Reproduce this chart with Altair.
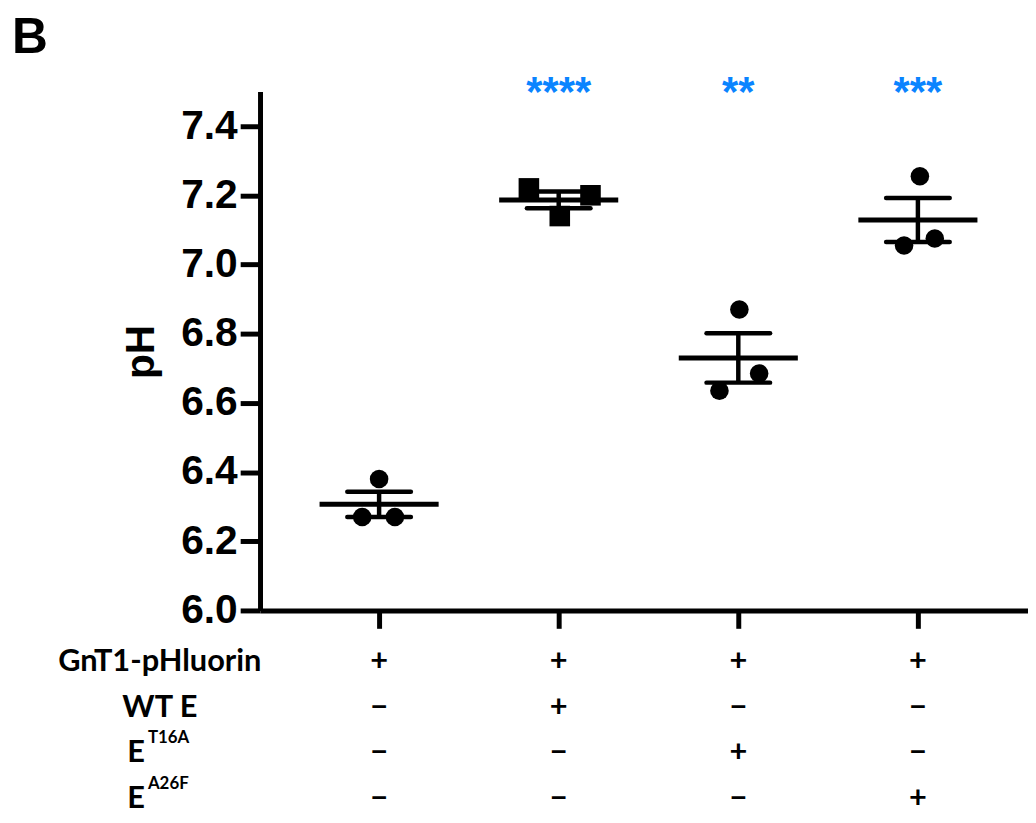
import altair as alt
import pandas as pd

# ---------------- data ----------------
groups = [1, 2, 3, 4]
ph_g1 = [6.38, 6.27, 6.27]
ph_g2 = [7.22, 7.20, 7.14]
ph_g3 = [6.87, 6.685, 6.635]
ph_g4 = [7.255, 7.055, 7.075]
jitter_g1 = [0.0, -0.094, 0.088]
jitter_g2 = [-0.166, 0.177, 0.006]
jitter_g3 = [0.006, 0.116, -0.105]
jitter_g4 = [0.011, -0.077, 0.094]
markers = ["circle", "square", "circle", "circle"]
stars = ["", "****", "**", "***"]

row_names = ["GnT1-pHluorin", "WT E", "E^T16A", "E^A26F"]
row_main = ["GnT1-pHluorin", "WT E", "E", "E"]
row_sup = ["", "", "T16A", "A26F"]
signs_gnt1 = ["+", "+", "+", "+"]
signs_wt = ["−", "+", "−", "−"]
signs_t16a = ["−", "−", "+", "−"]
signs_a26f = ["−", "−", "−", "+"]
y_ticks = [6.0, 6.2, 6.4, 6.6, 6.8, 7.0, 7.2, 7.4]
panel_label = "B"

# ---------------- tables ----------------
pts = []
for g, vals, jit, mk in zip(groups, [ph_g1, ph_g2, ph_g3, ph_g4],
                            [jitter_g1, jitter_g2, jitter_g3, jitter_g4], markers):
    for v, j in zip(vals, jit):
        pts.append({"group": g, "ph": v, "jit": j, "marker": mk})
df_pts = pd.DataFrame(pts)
df_stars = pd.DataFrame({"group": groups, "stars": stars})

sign_rows = []
for rn, sg in zip(row_names, [signs_gnt1, signs_wt, signs_t16a, signs_a26f]):
    for g, s in zip(groups, sg):
        sign_rows.append({"row": rn, "group": g, "sign": s})
df_signs = pd.DataFrame(sign_rows)
df_rows = pd.DataFrame({"row": row_names, "main": row_main, "sup": row_sup})
df_label = pd.DataFrame({"t": [panel_label]})

W = 774
H = 523
XDOM = [0.337, 4.613]
xscale = alt.Scale(domain=XDOM, nice=False, zero=False)
yscale = alt.Scale(domain=[6.0, 7.5], nice=False, zero=False)

AX_FONT = "Liberation Sans"
TAB_FONT = "Lato"
TAB_SIZE = 31

base = alt.Chart(df_pts)

points = base.transform_calculate(xp="datum.group + datum.jit").mark_point(
    filled=True, opacity=1, color="black", strokeWidth=0
).encode(
    x=alt.X("xp:Q", scale=xscale,
            axis=alt.Axis(values=groups, labels=False, title=None, grid=False,
                          domainColor="black", domainWidth=5, tickColor="black",
                          tickWidth=5, tickSize=18)),
    y=alt.Y("ph:Q", scale=yscale,
            axis=alt.Axis(values=y_ticks, format=".1f", title="pH", grid=False,
                          domainColor="black", domainWidth=5, tickColor="black",
                          tickWidth=5, tickSize=20, labelPadding=3,
                          labelFont=AX_FONT, labelFontSize=41, labelFontWeight="bold",
                          labelColor="black",
                          titleFont=AX_FONT, titleFontSize=41, titleFontWeight="bold",
                          titleColor="black", titleAngle=270, titleX=-119, titleY=262,
                          titleAlign="center", titleBaseline="middle")),
    shape=alt.Shape("marker:N", scale=alt.Scale(domain=["circle", "square"],
                                                range=["circle", "square"]), legend=None),
    size=alt.Size("marker:N", scale=alt.Scale(domain=["circle", "square"],
                                              range=[350, 430]), legend=None),
)

agg = base.transform_aggregate(
    m="mean(ph)", se="stderr(ph)", groupby=["group"]
).transform_calculate(
    xl="datum.group - 0.3315", xr="datum.group + 0.3315",
    cl="datum.group - 0.177", cr="datum.group + 0.177",
    hi="datum.m + datum.se", lo="datum.m - datum.se",
)

mean_line = agg.mark_rule(color="black", strokeWidth=5).encode(
    x=alt.X("xl:Q", scale=xscale), x2="xr:Q", y=alt.Y("m:Q", scale=yscale))
cap_hi = agg.mark_rule(color="black", strokeWidth=4.5, strokeCap="round").encode(
    x=alt.X("cl:Q", scale=xscale), x2="cr:Q", y=alt.Y("hi:Q", scale=yscale))
cap_lo = agg.mark_rule(color="black", strokeWidth=4.5, strokeCap="round").encode(
    x=alt.X("cl:Q", scale=xscale), x2="cr:Q", y=alt.Y("lo:Q", scale=yscale))
vbar = agg.mark_rule(color="black", strokeWidth=4.5).encode(
    x=alt.X("group:Q", scale=xscale), y=alt.Y("lo:Q", scale=yscale), y2="hi:Q")

star_text = alt.Chart(df_stars).mark_text(
    font=AX_FONT, fontSize=42, fontWeight="bold", color="#0a84ff",
    baseline="alphabetic", align="center", dy=15
).encode(x=alt.X("group:Q", scale=xscale), y=alt.datum(7.5), text="stars:N")

b_text = alt.Chart(df_label).mark_text(
    font=AX_FONT, fontSize=50, fontWeight="bold", color="black",
    align="left", baseline="alphabetic"
).encode(x=alt.value(-250), y=alt.value(-39), text="t:N")

top = alt.layer(mean_line, cap_hi, cap_lo, vbar, points, star_text, b_text).properties(
    width=W, height=H)

# ---------------- condition table ----------------
yrow = alt.Y("row:N", sort=row_names, axis=None,
             scale=alt.Scale(type="point", padding=0.2))
xtab = alt.X("group:Q", scale=xscale, axis=None)

sign_text = alt.Chart(df_signs).mark_text(
    font=TAB_FONT, fontSize=TAB_SIZE, fontWeight="bold", color="black", baseline="middle"
).encode(x=xtab, y=yrow, text="sign:N")

lab_plain = alt.Chart(df_rows).transform_filter("datum.sup == ''").mark_text(
    font=TAB_FONT, fontSize=TAB_SIZE, fontWeight="bold", color="black",
    baseline="middle", align="center"
).encode(x=alt.value(-101), y=yrow, text="main:N")

lab_e = alt.Chart(df_rows).transform_filter("datum.sup != ''").mark_text(
    font=TAB_FONT, fontSize=TAB_SIZE, fontWeight="bold", color="black",
    baseline="middle", align="right"
).encode(x=alt.value(-116), y=yrow, text="main:N")

lab_sup = alt.Chart(df_rows).transform_filter("datum.sup != ''").mark_text(
    font=TAB_FONT, fontSize=17, fontWeight="bold", color="black",
    baseline="middle", align="left", dy=-15
).encode(x=alt.value(-113), y=yrow, text="sup:N")

bottom = alt.layer(sign_text, lab_plain, lab_e, lab_sup).properties(width=W, height=156)

chart = alt.vconcat(top, bottom, spacing=43, bounds="flush").properties(
    padding={"left": 4, "top": 2, "right": 0, "bottom": 0}
).configure(background="white").configure_view(stroke=None)

chart.save("out.html", embed_options={"renderer": "svg", "actions": False})
